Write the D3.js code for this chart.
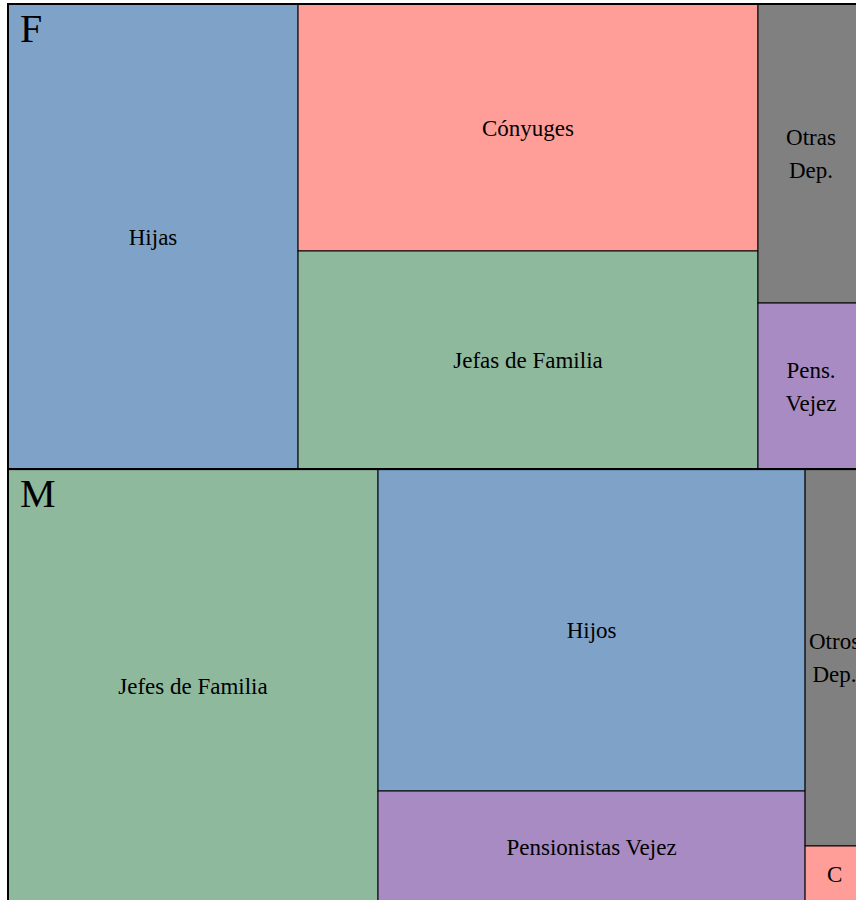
<!DOCTYPE html>
<html>
<head>
<meta charset="utf-8">
<script src="https://cdn.jsdelivr.net/npm/d3@7"></script>
<style>
  body { margin: 0; background: #fff; }
  svg { display: block; }
  text { font-family: "Liberation Serif", "Times New Roman", serif; fill: #000; }
</style>
</head>
<body>
<div id="chart"></div>
<script>
// data
var grupos = ["F", "M"];
var tipos = ["hijos", "conyuges", "jefes", "otros", "pension"];
var etiquetasF = ["Hijas", "Cónyuges", "Jefas de Familia", "Otras Dep.", "Pens. Vejez"];
var etiquetasM = ["Hijos", "Cónyuges", "Jefes de Familia", "Otros Dep.", "Pensionistas Vejez"];
var valoresF = [1349, 1136, 1003, 317, 176];
var valoresM = [1375, 33, 1602, 222, 474];
var colores = ["#7fa2c8", "#ff9e99", "#8fb99d", "#808080", "#a98bc4"];

var width = 856, height = 900;
var tmW = 856, tmH = 898; // treemap runs past the right/bottom edge a bit

var color = d3.scaleOrdinal().domain(tipos).range(colores);

function hijos(etiquetas, valores) {
  return etiquetas.map(function(e, i) {
    return { name: e, tipo: tipos[i], value: valores[i] };
  });
}
var datos = {
  name: "root",
  children: [
    { name: grupos[0], children: hijos(etiquetasF, valoresF) },
    { name: grupos[1], children: hijos(etiquetasM, valoresM) }
  ]
};

// pivot-by-size tiling (ordered treemap)
function pivotLayout(nodes, x0, y0, x1, y1) {
  if (!nodes.length) return;
  if (nodes.length === 1) {
    var n = nodes[0];
    n.x0 = x0; n.y0 = y0; n.x1 = x1; n.y1 = y1;
    return;
  }
  var total = d3.sum(nodes, function(d) { return d.value; });
  var p = d3.maxIndex(nodes, function(d) { return d.value; });
  var pivot = nodes[p];
  var l1 = nodes.slice(0, p), rest = nodes.slice(p + 1);
  var dx = x1 - x0, dy = y1 - y0;
  var wide = dx >= dy;
  var s1 = d3.sum(l1, function(d) { return d.value; });
  var best = 0, bestRatio = Infinity;
  for (var k = 0; k <= rest.length; k++) {
    var colVal = pivot.value + d3.sum(rest.slice(0, k), function(d) { return d.value; });
    var a, b;
    if (wide) { a = dx * colVal / total; b = dy * pivot.value / colVal; }
    else { a = dy * colVal / total; b = dx * pivot.value / colVal; }
    var r = Math.max(a / b, b / a);
    if (r < bestRatio) { bestRatio = r; best = k; }
  }
  var l2 = rest.slice(0, best), l3 = rest.slice(best);
  var cv = pivot.value + d3.sum(l2, function(d) { return d.value; });
  if (wide) {
    var w1 = dx * s1 / total;
    pivotLayout(l1, x0, y0, x0 + w1, y1);
    var ax = x0 + w1, cw = dx * cv / total, ph = dy * pivot.value / cv;
    pivotLayout([pivot], ax, y0, ax + cw, y0 + ph);
    pivotLayout(l2, ax, y0 + ph, ax + cw, y1);
    pivotLayout(l3, ax + cw, y0, x1, y1);
  } else {
    var h1 = dy * s1 / total;
    pivotLayout(l1, x0, y0, x1, y0 + h1);
    var ay = y0 + h1, ch = dy * cv / total, pw = dx * pivot.value / cv;
    pivotLayout([pivot], x0, ay, x0 + pw, ay + ch);
    pivotLayout(l2, x0 + pw, ay, x1, ay + ch);
    pivotLayout(l3, x0, ay + ch, x1, y1);
  }
}
function tilePivot(parent, x0, y0, x1, y1) {
  pivotLayout(parent.children.slice(), x0, y0, x1, y1);
}

var root = d3.hierarchy(datos)
  .sum(function(d) { return d.value; })
  .sort(function(a, b) { return b.value - a.value; });

d3.treemap().size([tmW, tmH]).tile(tilePivot).round(false)(root);

var svg = d3.select("#chart").append("svg")
  .attr("width", width).attr("height", height);
var g = svg.append("g").attr("transform", "translate(8,4)");

var hojas = g.selectAll("g.hoja").data(root.leaves()).enter().append("g")
  .classed("hoja", true);
hojas.append("rect")
  .attr("x", function(d) { return d.x0; })
  .attr("y", function(d) { return d.y0; })
  .attr("width", function(d) { return d.x1 - d.x0; })
  .attr("height", function(d) { return d.y1 - d.y0; })
  .attr("fill", function(d) { return color(d.data.tipo); })
  .attr("stroke", "#000")
  .attr("stroke-width", 1);

// group borders
g.selectAll("rect.grupo").data(root.children).enter().append("rect")
  .classed("grupo", true)
  .attr("x", function(d) { return d.x0; })
  .attr("y", function(d) { return d.y0; })
  .attr("width", function(d) { return d.x1 - d.x0; })
  .attr("height", function(d) { return d.y1 - d.y0; })
  .attr("fill", "none")
  .attr("stroke", "#000")
  .attr("stroke-width", 2);

// leaf labels
var fs = 23, lh = 33, fit = 0.9;
hojas.each(function(d) {
  var w = d.x1 - d.x0;
  var cx = (d.x0 + d.x1) / 2, cy = (d.y0 + d.y1) / 2;
  var t = d3.select(this).append("text")
    .attr("text-anchor", "middle")
    .attr("font-family", "Liberation Serif, Times New Roman, serif")
    .style("font-size", fs + "px");
  t.text(d.data.name);
  var lines = [d.data.name];
  if (t.node().getComputedTextLength() > w * fit) {
    lines = d.data.name.split(" ");
    t.text(lines[0]);
    if (t.node().getComputedTextLength() > w * fit) lines = [lines[0].charAt(0)];
  }
  t.text(null);
  var top = cy - (lines.length - 1) * lh / 2;
  lines.forEach(function(l, i) {
    t.append("tspan")
      .attr("x", cx)
      .attr("y", top + i * lh)
      .attr("dy", "0.35em")
      .text(l);
  });
});

// group labels
g.selectAll("text.grupo").data(root.children).enter().append("text")
  .classed("grupo", true)
  .attr("x", function(d) { return d.x0 + 12; })
  .attr("y", function(d) { return d.y0 + 38; })
  .attr("font-family", "Liberation Serif, Times New Roman, serif")
  .style("font-size", "40px")
  .text(function(d) { return d.data.name; });
</script>
</body>
</html>
